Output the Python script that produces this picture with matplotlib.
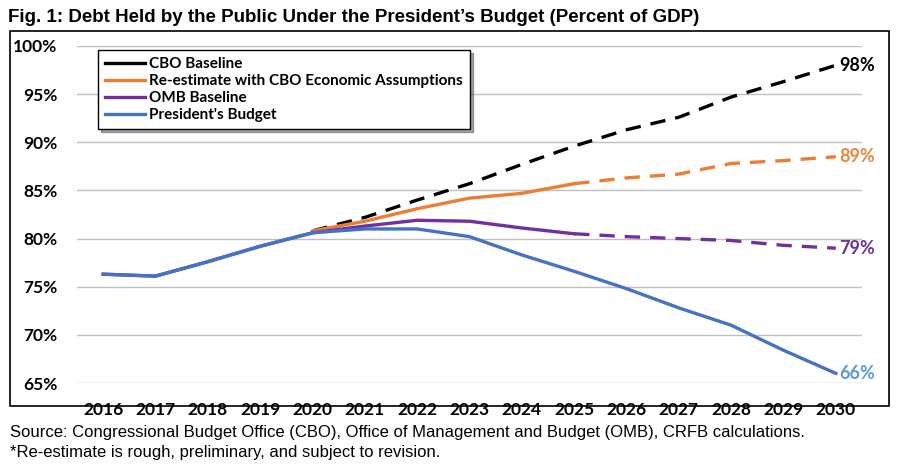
import matplotlib
matplotlib.use("Agg")
import matplotlib.pyplot as plt
from matplotlib.patches import Rectangle
from matplotlib.lines import Line2D

NARROW = ['Liberation Sans Narrow', 'Liberation Sans', 'DejaVu Sans']
LAB = ['Lato', 'DejaVu Sans']

years = list(range(2016, 2031))
cbo_baseline = [None, None, None, None, 80.8, 82.2, 84.0, 85.7, 87.7, 89.6, 91.3, 92.6, 94.7, 96.3, 98.0]
reestimate = [None, None, None, None, 80.8, 81.8, 83.1, 84.2, 84.7, 85.7, 86.3, 86.7, 87.8, 88.1, 88.5]
omb_baseline = [76.3, 76.1, 77.6, 79.2, 80.6, 81.3, 81.9, 81.8, 81.1, 80.5, 80.2, 80.0, 79.8, 79.3, 79.0]
presidents_budget = [76.3, 76.1, 77.6, 79.2, 80.6, 81.0, 81.0, 80.2, 78.3, 76.6, 74.8, 72.8, 71.0, 68.4, 66.0]
end_labels = ["98%", "89%", "79%", "66%"]
yticks = [65, 70, 75, 80, 85, 90, 95, 100]
series_names = ["CBO Baseline", "Re-estimate with CBO Economic Assumptions", "OMB Baseline", "President's Budget"]

title = "Fig. 1: Debt Held by the Public Under the President\u2019s Budget (Percent of GDP)"
source1 = "Source: Congressional Budget Office (CBO), Office of Management and Budget (OMB), CRFB calculations."
source2 = "*Re-estimate is rough, preliminary, and subject to revision."

W, H = 898, 470
fig = plt.figure(figsize=(W/100, H/100), dpi=100)
fig.patch.set_facecolor('white')

def fx(px): return px / W
def fy(py): return 1 - py / H

# axes: left 77, right 862, top 46, bottom 383
ax = fig.add_axes([fx(77), fy(383), fx(862) - fx(77), fy(46) - fy(383)])
ax.set_xlim(2015.5, 2030.5)
ax.set_ylim(65, 100)
for s in ax.spines.values():
    s.set_visible(False)
ax.set_yticks(yticks)
ax.set_yticklabels([f"{v}%" for v in yticks], fontfamily=LAB, fontsize=12.5, fontweight='bold')
ax.set_xticks(years)
ax.set_xticklabels([str(y) for y in years], fontfamily=LAB, fontsize=12.5, fontweight='bold')
ax.tick_params(axis='both', length=0)
ax.tick_params(axis='y', pad=14)
ax.tick_params(axis='x', pad=14)
ax.grid(axis='y', color='#BFBFBF', linewidth=1.0)
ax.set_axisbelow(True)

colors = ['#000000', '#ED7D31', '#7030A0', '#4472C4']
label_colors = ['#000000', '#E8883A', '#6A3596', '#5B9BD5']
lw = 2.4
dash = (4.6, 3.0)
split = years.index(2025)

def seg(xs, ys):
    pts = [(x, y) for x, y in zip(xs, ys) if y is not None]
    return [p[0] for p in pts], [p[1] for p in pts]

# CBO baseline - dashed
x, y = seg(years, cbo_baseline)
ax.plot(x, y, color=colors[0], lw=lw, dashes=dash, zorder=2)
# Re-estimate
x, y = seg(years[:split+1], reestimate[:split+1])
ax.plot(x, y, color=colors[1], lw=lw, zorder=3)
x, y = seg(years[split:], reestimate[split:])
ax.plot(x, y, color=colors[1], lw=lw, dashes=dash, zorder=3)
# OMB
ax.plot(years[:split+1], omb_baseline[:split+1], color=colors[2], lw=lw, zorder=4)
ax.plot(years[split:], omb_baseline[split:], color=colors[2], lw=lw, dashes=dash, zorder=4)
# President's budget
ax.plot(years, presidents_budget, color=colors[3], lw=lw, zorder=5)

finals = [cbo_baseline[-1], reestimate[-1], omb_baseline[-1], presidents_budget[-1]]
for val, lab, c in zip(finals, end_labels, label_colors):
    ax.text(years[-1] + 0.06, val, lab, color=c, fontsize=13, fontweight='bold',
            fontfamily=LAB, va='center', ha='left', clip_on=False, zorder=6)

handles = [Line2D([0], [0], color=c, lw=lw) for c in colors]
leg = fig.legend(handles, series_names, loc='upper left',
                 bbox_to_anchor=(fx(98), fy(50)), borderaxespad=0, frameon=True, fancybox=False,
                 shadow=True, handlelength=2.6, handletextpad=0.3, labelspacing=0.2,
                 borderpad=0.45, prop={'family': LAB, 'weight': 'bold', 'size': 11})
leg.get_frame().set_edgecolor('black')
leg.get_frame().set_linewidth(1.0)

# chart border
fig.patches.append(Rectangle((fx(10), fy(406)), fx(889) - fx(10), fy(31) - fy(406),
                             transform=fig.transFigure, fill=False, edgecolor='black', lw=1.2))

fig.text(fx(8), fy(17), title, fontfamily=NARROW, fontweight='bold', fontsize=13.5, va='center', ha='left')
fig.text(fx(10), fy(433), source1, fontfamily=NARROW, fontsize=12, va='center', ha='left')
fig.text(fx(10), fy(453), source2, fontfamily=NARROW, fontsize=12, va='center', ha='left')

fig.savefig('out.png', dpi=100, facecolor='white')
